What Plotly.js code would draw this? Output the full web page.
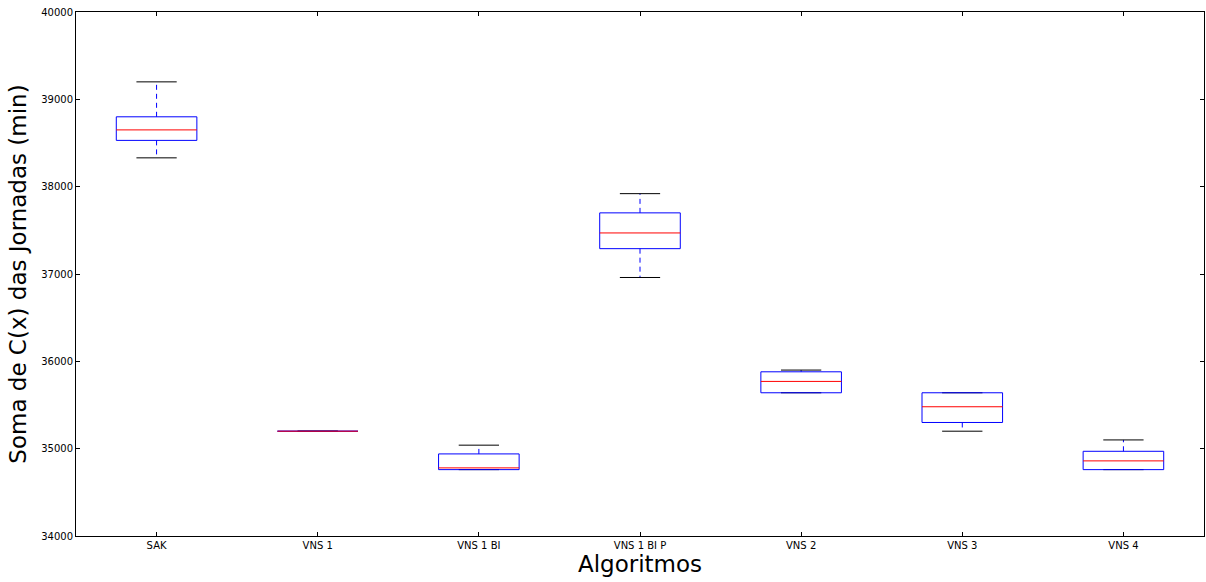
<!DOCTYPE html>
<html>
<head>
<meta charset="utf-8">
<script src="https://cdn.plot.ly/plotly-3.0.1.min.js"></script>
<style>html,body{margin:0;padding:0;background:#fff;}#chart{width:1206px;height:582px;}</style>
</head>
<body>
<div id="chart"></div>
<script>
const categories = ["SAK", "VNS 1", "VNS 1 BI", "VNS 1 BI P", "VNS 2", "VNS 3", "VNS 4"];
const lowerWhisker = [38330, 35200, 34760, 36960, 35640, 35200, 34760];
const q1Values     = [38530, 35200, 34760, 37290, 35640, 35300, 34760];
const medianValues = [38650, 35200, 34780, 37470, 35770, 35480, 34860];
const q3Values     = [38800, 35200, 34940, 37700, 35880, 35640, 34970];
const upperWhisker = [39200, 35200, 35040, 37920, 35900, 35640, 35100];
const yTicks = [34000, 35000, 36000, 37000, 38000, 39000, 40000];

const positions = categories.map((c, i) => i + 1);
const halfBox = 0.25, halfCap = 0.125;

function segs(fn) {
  const x = [], y = [];
  positions.forEach((p, i) => {
    const s = fn(p, i);
    x.push(...s[0], null); y.push(...s[1], null);
  });
  return {x, y};
}

const boxes = segs((p, i) => [[p - halfBox, p + halfBox, p + halfBox, p - halfBox, p - halfBox],
                               [q1Values[i], q1Values[i], q3Values[i], q3Values[i], q1Values[i]]]);
const medians = segs((p, i) => [[p - halfBox, p + halfBox], [medianValues[i], medianValues[i]]]);
const whiskUp = segs((p, i) => [[p, p], [q3Values[i], upperWhisker[i]]]);
const whiskLo = segs((p, i) => [[p, p], [q1Values[i], lowerWhisker[i]]]);
const capsX = [], capsY = [];
positions.forEach((p, i) => {
  capsX.push(p - halfCap, p + halfCap, null, p - halfCap, p + halfCap, null);
  capsY.push(upperWhisker[i], upperWhisker[i], null, lowerWhisker[i], lowerWhisker[i], null);
});

const common = {type: 'scatter', mode: 'lines', hoverinfo: 'skip', showlegend: false, connectgaps: false};
const traces = [
  Object.assign({}, common, {x: whiskUp.x, y: whiskUp.y, line: {color: '#0000ff', width: 1, dash: '5px,4px'}}),
  Object.assign({}, common, {x: whiskLo.x, y: whiskLo.y, line: {color: '#0000ff', width: 1, dash: '5px,4px'}}),
  Object.assign({}, common, {x: capsX, y: capsY, line: {color: '#000000', width: 1}}),
  Object.assign({}, common, {x: boxes.x, y: boxes.y, line: {color: '#0000ff', width: 1}}),
  Object.assign({}, common, {x: medians.x, y: medians.y, line: {color: '#ff0000', width: 1}})
];

const axisFont = {family: 'DejaVu Sans', size: 10, color: '#000'};
const layout = {
  width: 1206, height: 582,
  margin: {l: 76, r: 2, t: 12, b: 46},
  paper_bgcolor: '#fff', plot_bgcolor: '#fff',
  font: {family: 'DejaVu Sans', color: '#000'},
  xaxis: {
    range: [0.5, 7.5], tickvals: positions, ticktext: categories,
    showgrid: false, zeroline: false,
    showline: true, linecolor: '#000', linewidth: 1, mirror: 'ticks',
    ticks: 'inside', ticklen: 4, tickcolor: '#000', tickfont: axisFont,
    title: {text: 'Algoritmos', font: {family: 'DejaVu Sans', size: 23, color: '#000'}, standoff: 5}
  },
  yaxis: {
    range: [34000, 40000], tickvals: yTicks, ticktext: yTicks.map(String),
    showgrid: false, zeroline: false,
    showline: true, linecolor: '#000', linewidth: 1, mirror: 'ticks',
    ticks: 'inside', ticklen: 4, tickcolor: '#000', tickfont: axisFont,
    title: {text: 'Soma de C(x) das Jornadas (min)', font: {family: 'DejaVu Sans', size: 23, color: '#000'}, standoff: 8}
  }
};

Plotly.newPlot('chart', traces, layout, {displayModeBar: false, staticPlot: true});
</script>
</body>
</html>
